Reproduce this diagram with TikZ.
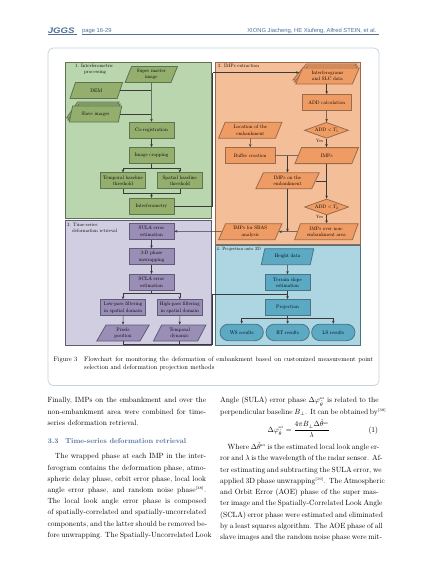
\documentclass[tikz,border=0pt]{standalone}
\usepackage{fontspec}
\setmainfont{lmroman10-regular.otf}[BoldFont=lmroman10-bold.otf,ItalicFont=lmroman10-italic.otf]
\newfontfamily\hdrfont{Liberation Sans}
\usetikzlibrary{shapes.geometric,shapes.misc,arrows.meta,calc}
\definecolor{pgreen}{HTML}{BAD6AE}
\definecolor{ngreen}{HTML}{94AE6E}
\definecolor{bgreen}{HTML}{5F7350}
\definecolor{porange}{HTML}{F4BF98}
\definecolor{norange}{HTML}{EF9C64}
\definecolor{borange}{HTML}{9A6A4C}
\definecolor{ppurple}{HTML}{D2CEE2}
\definecolor{npurple}{HTML}{9A8DB6}
\definecolor{bpurple}{HTML}{5F5C76}
\definecolor{pblue}{HTML}{AED6E2}
\definecolor{nblue}{HTML}{5BA9C3}
\definecolor{bblue}{HTML}{4A7484}
\definecolor{hdrblue}{HTML}{4F7099}
\definecolor{framec}{HTML}{C4D2DE}
\definecolor{conn}{HTML}{3A3A3A}
\newcommand{\mth}[2]{\scalebox{#1}{\fontsize{10}{12}\selectfont$#2$}}
\newcommand{\sersup}{^{\scriptscriptstyle\rm ser}}
\tikzset{
  x=1pt,y=-1pt,
  >={Stealth[length=3pt,width=2.6pt]},
  panel/.style={draw=#1,line width=0.8pt,inner sep=0},
  lab/.style={font=\fontsize{5}{6.2}\selectfont,inner sep=0,align=center,text=black},
  rect/.style 2 args={lab,rectangle,draw=#2,fill=#1,line width=0.8pt,minimum height=16pt,minimum width=45pt},
  wide/.style={minimum width=49.5pt},
  para/.style 2 args={lab,trapezium,trapezium stretches=true,trapezium left angle=66,trapezium right angle=114,draw=#2,fill=#1,line width=0.8pt,minimum height=16pt,minimum width=52.5pt},
  paral/.style={minimum width=63.5pt},
  dia/.style={lab,diamond,aspect=2.75,draw=borange,fill=norange,line width=0.8pt,minimum width=44pt,minimum height=16pt},
  stad/.style={lab,rounded rectangle,draw=bblue,fill=nblue,line width=0.8pt,minimum width=43.3pt,minimum height=16.5pt},
  wire/.style={draw=conn,line width=0.5pt},
  flow/.style={draw=conn,line width=0.5pt,->},
  plab/.style={font=\fontsize{4.9}{6.2}\selectfont,inner sep=0,anchor=north west,align=left},
  gn/.style={rect={ngreen}{bgreen}},
  gp/.style={para={ngreen}{bgreen}},
  on/.style={rect={norange}{borange}},
  op/.style={para={norange}{borange},paral},
  un/.style={rect={npurple}{bpurple}},
  up/.style={para={npurple}{bpurple}},
  bn/.style={rect={nblue}{bblue}},
  bp/.style={para={nblue}{bblue}},
  yes/.style={font=\fontsize{4.6}{5}\selectfont,inner sep=0},
}
\newcommand{\tl}[5]{\node[anchor=base west,inner sep=0,font=\fontsize{7.5}{9}\selectfont] (#1) at (#2,#3) {\makebox[#4pt][s]{#5}};}
\newcommand{\tn}[4]{\node[anchor=base west,inner sep=0,font=\fontsize{7.5}{9}\selectfont] (#1) at (#2,#3) {#4};}
\begin{document}
\begin{tikzpicture}
\useasboundingbox (0,0) rectangle (427,566);
\fill[white] (0,0) rectangle (427,566);
% header
\node[inner sep=0,anchor=base west,text=hdrblue,font=\hdrfont\bfseries\itshape\fontsize{8}{9}\selectfont] (logo) at (47.7,33) {\scalebox{1.2}[1]{JGGS}};
\node[inner sep=0,anchor=base west,text=hdrblue,font=\hdrfont\fontsize{5.8}{6}\selectfont] (pg) at (82,32.6) {page 16-29};
\node[inner sep=0,anchor=base east,text=hdrblue,font=\hdrfont\fontsize{5.8}{6}\selectfont] (auth) at (376.5,32.6) {XIONG Jiacheng, HE Xiufeng, Alfred STEIN, et al.};
\coordinate (r1) at (82,34.6); \coordinate (r2) at (378.7,34.6);
\coordinate (r3) at (48,34.4); \coordinate (r4) at (77,34.4);
\draw[hdrblue,line width=0.6pt] (r1) -- (r2);
\draw[hdrblue,line width=0.6pt] (r3) -- (r4);
% frame
\node[draw=framec,line width=0.7pt,rounded corners=5pt,minimum width=331pt,minimum height=337.5pt,anchor=north west,inner sep=0] (frame) at (47.7,47.7) {};
% panels
\node[panel=bgreen,fill=pgreen,minimum width=145.7pt,minimum height=156pt,anchor=north west] (p1) at (65,61.7) {};
\node[panel=bpurple,fill=ppurple,minimum width=145.7pt,minimum height=125pt,anchor=north west] (p3) at (65,220) {};
\node[panel=borange,fill=porange,minimum width=145pt,minimum height=182.3pt,anchor=north west] (p2) at (215,61.7) {};
\node[panel=bblue,fill=pblue,minimum width=145pt,minimum height=100pt,anchor=north west] (p4) at (215,245) {};
\node[plab] (l1) at (75,64) {1. Interferometric\\\hspace*{9pt}processing};
\node[plab] (l2) at (218,63.5) {2. IMPs extraction};
\node[plab] (l3) at (67,222.5) {3. Time-series\\\hspace*{5pt}deformation retrieval};
% panel 1 nodes
\node[gp] (master) at (151.3,74.5) {Super master\\image};
\node[gp] (dem) at (96.3,90.5) {DEM};
\node[gp] (slaveb) at (92.8,110) {\phantom{x}};
\node[gp] (slavem) at (94.1,112) {\phantom{x}};
\node[gp] (slave) at (95.5,114) {Slave images};
\node[gn] (coreg) at (151.5,130.2) {Co-registration};
\node[gn] (crop) at (151.5,155.5) {Image cropping};
\node[gn] (temporal) at (123,180.8) {Temporal baseline\\threshold};
\node[gn] (spatial) at (179.8,180.8) {Spatial baseline\\threshold};
\node[gn] (ifm) at (151.5,206.3) {Interferometry};
% panel 3 nodes
\node[un] (sula) at (151.5,231.3) {SULA error\\estimation};
\node[un] (unwrap) at (151.5,256.8) {3-D phase\\unwrapping};
\node[un] (scla) at (151.5,282.3) {SCLA error\\estimation};
\node[un] (low) at (123,307.7) {Low-pass filtering\\in spatial domain};
\node[un] (high) at (179.8,307.7) {High-pass filtering\\in spatial domain};
\node[up] (pix) at (123,333) {Pixels\\position};
\node[up] (tempd) at (179.7,333) {Temporal\\dynamic};
% panel 2 nodes
\node[op] (ifgb) at (324.7,72) {\phantom{x}};
\node[op] (ifgm) at (326.1,74) {\phantom{x}};
\node[op] (ifg) at (327.5,76) {Interferograms\\and SLC data};
\node[on,wide] (addc) at (326.7,102.5) {ADD calculation};
\node[dia] (d1) at (326.5,130.3) {ADD \mth{.5}{<T_1}};
\node[op] (imps) at (326.7,155.6) {IMPs};
\node[op] (loc) at (250.3,130.2) {Location of the\\embankment};
\node[on,wide] (buf) at (250.2,155.5) {Buffer creation};
\node[op] (onem) at (287.5,180.8) {IMPs on the\\embankment};
\node[dia] (d2) at (326.6,207) {ADD \mth{.5}{<T_2}};
\node[op] (non) at (326.4,231.7) {IMPs over non-\\embankment area};
\node[op] (sbas) at (250.3,231.7) {IMPs for SBAS\\analysis};
\node[yes] (y1) at (319.7,140.8) {Yes};
\node[yes] (y2) at (319.7,216.8) {Yes};
% panel 4 nodes
\node[bp] (height) at (287.5,256.7) {Height data};
\node[plab,font=\fontsize{4.6}{6}\selectfont] (l4) at (216.5,247.5) {4. Projection onto 3D};
\node[bn] (terrain) at (287.5,282.5) {Terrain slope\\estimation};
\node[bn] (proj) at (287.5,307.5) {Projection};
\node[stad] (ws) at (241.7,332.4) {WS results};
\node[stad] (rt) at (287.7,332.4) {RT results};
\node[stad] (ls) at (333.3,332.4) {LS results};
% connectors panel 1
\draw[flow] (master.south) -- (coreg.north);
\draw[wire] (dem.east) -- (dem.east -| master.south);
\draw[wire] (slave.east) -- (slave.east -| master.south);
\draw[flow] (coreg) -- (crop);
\coordinate (s1) at (crop.south |- 0,168.2);
\draw[wire] (crop) -- (s1);
\draw[flow] (s1) -| (temporal.north);
\draw[flow] (s1) -| (spatial.north);
\coordinate (s2) at (ifm.north |- 0,193.3);
\draw[wire] (temporal.south) |- (s2);
\draw[wire] (spatial.south) |- (s2);
\draw[flow] (s2) -- (ifm.north);
\coordinate (u1) at (212.6,206.3);
\coordinate (u2) at (212.6,72.5);
\draw[wire] (ifm.east) -- (u1) -- (u2);
\draw[flow] (u2) -- (ifgb.west |- u2);
% panel 2
\draw[flow] (ifg.south -| addc) -- (addc.north);
\draw[flow] (addc) -- (d1);
\draw[flow] (d1) -- (imps.north -| d1);
\draw[flow] (loc) -- (buf);
\draw[wire] (buf.east) -- (imps.west);
\coordinate (j1) at (onem.north |- buf.east);
\draw[flow] (j1) -- (onem.north);
\draw[flow] (imps.south -| d2) -- (d2.north);
\coordinate (j2) at (d2.north |- 0,182);
\draw[wire] (onem.east) -- (onem.east -| j2);
\draw[flow] (d2.south) -- (non.north -| d2);
\draw[flow] (non.west) -- (sbas.east);
\coordinate (j3) at (onem.south |- sbas.east);
\draw[flow] (onem.south) -- (j3);
\draw[flow] (sbas.west) -- (sula.east);
% panel 3
\draw[flow] (sula) -- (unwrap);
\draw[flow] (unwrap) -- (scla);
\coordinate (s3) at (scla.south |- 0,293.3);
\draw[wire] (scla) -- (s3);
\draw[flow] (s3) -| (low.north);
\draw[flow] (s3) -| (high.north);
\draw[flow] (low) -- (pix);
\draw[flow] (high) -- (tempd);
\coordinate (b1) at (212.7,343.8);
\coordinate (b2) at (212.7,294.2);
\coordinate (b3) at (287.5,294.2);
\draw[wire] (pix.south) |- (b1);
\draw[wire] (tempd.south) |- (b1);
\draw[wire] (b1) -- (b2) -- (b3);
% panel 4
\draw[flow] (height) -- (terrain);
\draw[flow] (terrain) -- (proj);
\coordinate (s4) at (proj.south |- 0,318.5);
\draw[wire] (proj) -- (s4);
\draw[flow] (s4) -| (ws.north);
\draw[flow] (s4) -- (rt.north);
\draw[flow] (s4) -| (ls.north);
% caption
\node[inner sep=0,anchor=base west,font=\fontsize{6.5}{8}\selectfont] (capa) at (53.3,361.7) {Figure 3};
\node[inner sep=0,anchor=base west,font=\fontsize{6.5}{8}\selectfont] (capb) at (84,361.7) {\makebox[289pt][s]{Flowchart for monitoring the deformation of embankment based on customized measurement point}};
\node[inner sep=0,anchor=base west,font=\fontsize{6.5}{8}\selectfont] (capc) at (84,369.7) {selection and deformation projection methods};
% left column
\tl{a1}{47.3}{402.7}{158.7}{Finally, IMPs on the embankment and over the}
\tl{a2}{47.3}{414}{158.7}{non-embankment area were combined for time-}
\tn{a3}{47.3}{425.3}{series deformation retrieval.}
\node[inner sep=0,anchor=base west,text=hdrblue,font=\bfseries\fontsize{7.2}{9}\selectfont] (h33) at (47.7,443) {3.3\hspace{7pt}Time-series deformation retrieval};
\tl{a4}{55}{458.7}{151}{The wrapped phase at each IMP in the inter-}
\tl{a5}{47.3}{470}{158.7}{ferogram contains the deformation phase, atmo-}
\tl{a6}{47.3}{481.3}{158.7}{spheric delay phase, orbit error phase, local look}
\tl{a7}{47.3}{492.5}{158.7}{angle error phase, and random noise phase\mth{.75}{^{\scriptscriptstyle[38]}}.}
\tl{a8}{47.3}{503.7}{158.7}{The local look angle error phase is composed}
\tl{a9}{47.3}{514.8}{158.7}{of spatially-correlated and spatially-uncorrelated}
\tl{a10}{47.3}{526}{158.7}{components, and the latter should be removed be-}
\tl{a11}{47.3}{537.3}{158.7}{fore unwrapping. The Spatially-Uncorrelated Look}
% right column
\tl{b1t}{220}{402.7}{158.5}{Angle (SULA) error phase \mth{.75}{\Delta\varphi_{\hat\theta}\sersup} is related to the}
\tl{b2t}{220}{414}{158.5}{perpendicular baseline \mth{.75}{B_\perp}. It can be obtained by\mth{.75}{^{\scriptscriptstyle[38]}}}
\node[inner sep=0,anchor=base,font=\fontsize{7.5}{9}\selectfont] (eq) at (298.5,432) {\mth{.75}{\displaystyle\Delta\varphi_{\hat\theta}\sersup=\frac{4\pi B_\perp\Delta\hat\theta\sersup}{\lambda}}};
\node[inner sep=0,anchor=base east,font=\fontsize{7.5}{9}\selectfont] (eqn) at (378.3,432) {(1)};
\tl{b3t}{227.5}{449.3}{150.8}{Where \mth{.75}{\Delta\hat\theta\sersup} is the estimated local look angle er-}
\tl{b4t}{220}{460.7}{158.5}{ror and \mth{.75}{\lambda} is the wavelength of the radar sensor. Af-}
\tl{b5t}{220}{472}{158.5}{ter estimating and subtracting the SULA error, we}
\tl{b6t}{220}{483.3}{158.5}{applied 3D phase unwrapping\mth{.75}{^{\scriptscriptstyle[19]}}. The Atmospheric}
\tl{b7t}{220}{494.6}{158.5}{and Orbit Error (AOE) phase of the super mas-}
\tl{b8t}{220}{505.7}{158.5}{ter image and the Spatially-Correlated Look Angle}
\tl{b9t}{220}{517}{158.5}{(SCLA) error phase were estimated and eliminated}
\tl{b10t}{220}{528}{158.5}{by a least squares algorithm. The AOE phase of all}
\tl{b11t}{220}{539.3}{158.5}{slave images and the random noise phase were mit-}
\end{tikzpicture}
\end{document}
